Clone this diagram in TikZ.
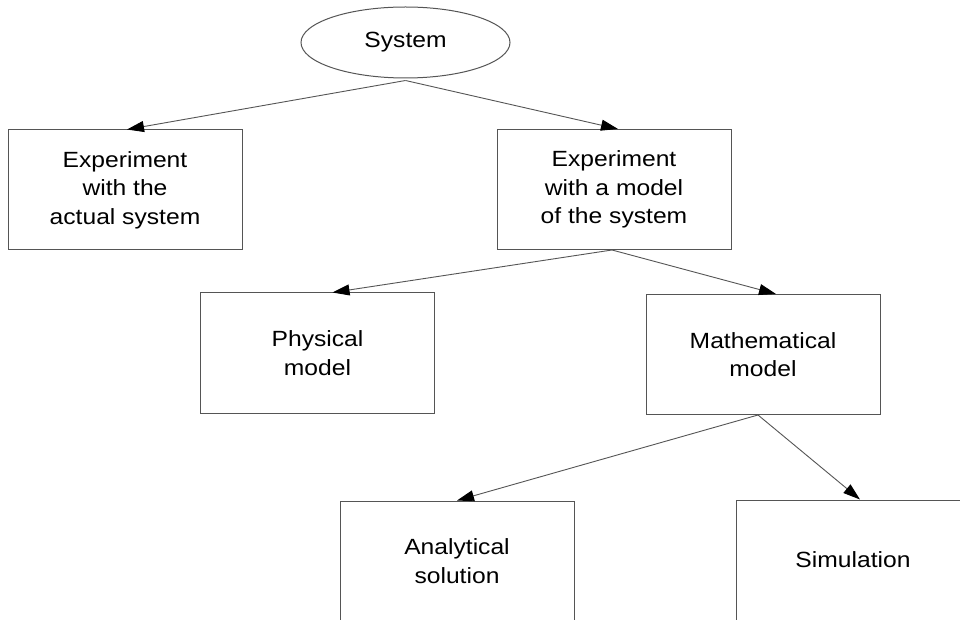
\documentclass[tikz,border=0pt]{standalone}
\usepackage{fontspec}
\setmainfont[FakeStretch=1.12]{Liberation Sans}
\usetikzlibrary{shapes.geometric,arrows.meta}
\definecolor{edgegray}{RGB}{85,85,85}
\tikzset{
  stage/.style={draw=edgegray, line width=1pt, rectangle, minimum width=234pt,
    minimum height=120pt, align=center, font=\fontsize{22}{28.5}\selectfont,
    inner sep=0pt},
  root/.style={draw=edgegray, line width=1pt, ellipse, minimum width=209pt,
    minimum height=71pt, inner sep=0pt, font=\fontsize{22}{28.5}\selectfont},
  link/.style={draw=edgegray, line width=0.9pt,
    -{Triangle[length=17pt,width=11pt,fill=black,color=black]}}
}
\begin{document}
\begin{tikzpicture}[x=1pt,y=1pt]
  \useasboundingbox (0,0) rectangle (960,619);
  \clip (0,0) rectangle (960,619);
  \fill[white] (0,0) rectangle (960,619);

  \node[root]  (sys)  at (405.5,576.5) {System};
  \node[stage] (real) at (125,429)     {Experiment\\with the\\actual system};
  \node[stage] (mod)  at (614,429.5)   {Experiment\\with a model\\of the system};
  \node[stage] (phys) at (317.5,266)   {Physical\\model};
  \node[stage] (math) at (763,264.5)   {Mathematical\\model};
  \node[stage] (anal) at (457,58)      {Analytical\\solution};
  \node[stage] (sim)  at (853,59)      {Simulation};

  \draw[link] ([yshift=-2pt]sys.south) -- ([xshift=2pt]real.north);
  \draw[link] ([yshift=-2pt]sys.south) -- ([xshift=4pt]mod.north);
  \draw[link] ([xshift=-2pt]mod.south) -- ([xshift=15pt]phys.north);
  \draw[link] ([xshift=-2pt]mod.south) -- ([xshift=13pt]math.north);
  \draw[link] ([xshift=-5pt]math.south) -- (anal.north);
  \draw[link] ([xshift=-5pt]math.south) -- ([xshift=7pt]sim.north);
\end{tikzpicture}
\end{document}
